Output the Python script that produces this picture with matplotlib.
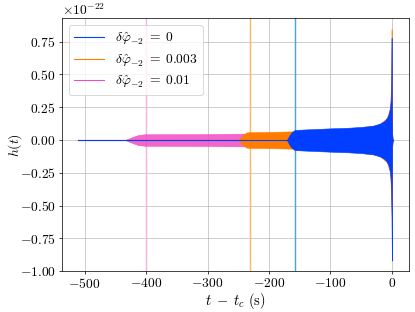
import matplotlib
matplotlib.use("Agg")
import matplotlib.pyplot as plt
from matplotlib.lines import Line2D
import numpy as np

plt.rcParams['font.family'] = 'serif'
plt.rcParams['font.serif'] = ['cmr10', 'DejaVu Serif']
plt.rcParams['mathtext.fontset'] = 'cm'
plt.rcParams['axes.formatter.use_mathtext'] = True
plt.rcParams['axes.unicode_minus'] = True

SCALE = 1e-22

# Envelopes of h(t) (units of 1e-22)
t_blue = [-511, -171, -167, -163, -158, -130, -100, -70, -50, -30, -20, -12, -8, -5, -3, -2, -1.2, -0.6, -0.3, 0.3, 1, 2]
up_blue = [0, 0, 0.035, 0.06, 0.077, 0.083, 0.089, 0.094, 0.10, 0.11, 0.125, 0.145, 0.17, 0.20, 0.25, 0.30, 0.42, 0.78, 0.5, 0.05, 0.01, 0]
lo_blue = [0, 0, -0.035, -0.06, -0.077, -0.083, -0.089, -0.094, -0.10, -0.11, -0.125, -0.145, -0.17, -0.20, -0.25, -0.30, -0.42, -0.6, -0.92, -0.05, -0.01, 0]

t_orange = [-511, -250, -246, -242, -236, -200, -160, -100, -50, -20, -8, -3, -1.2, -0.6, -0.3, 0.3, 1, 2]
up_orange = [0, 0, 0.02, 0.04, 0.059, 0.062, 0.066, 0.075, 0.09, 0.12, 0.17, 0.25, 0.45, 0.846, 0.5, 0.05, 0.01, 0]
lo_orange = [0, 0, -0.02, -0.04, -0.059, -0.062, -0.066, -0.075, -0.09, -0.12, -0.17, -0.25, -0.45, -0.6, -0.85, -0.05, -0.01, 0]

t_pink = [-511, -434, -428, -421, -413, -402, -350, -300, -250, -200, -100, -50, -20, -8, -3, -1.2, -0.6, -0.3, 0.3, 1, 2]
up_pink = [0, 0, 0.012, 0.025, 0.038, 0.044, 0.045, 0.046, 0.048, 0.052, 0.065, 0.08, 0.11, 0.16, 0.24, 0.4, 0.7, 0.45, 0.05, 0.01, 0]
lo_pink = [0, 0, -0.012, -0.025, -0.038, -0.044, -0.045, -0.046, -0.048, -0.052, -0.065, -0.08, -0.11, -0.16, -0.24, -0.4, -0.55, -0.8, -0.05, -0.01, 0]

labels = [r'$\delta\hat{\varphi}_{-2}\;=\;0$', r'$\delta\hat{\varphi}_{-2}\;=\;0.003$', r'$\delta\hat{\varphi}_{-2}\;=\;0.01$']
colors = ['#023eff', '#ff7c00', '#f14cc1']
vline_t = [-158, -231, -400]
vline_colors = ['#4aa6da', '#f3bb63', '#f5b3e2']

fig = plt.figure(figsize=(415/65, 312/65), dpi=65)
ax = fig.add_axes([0.149, 0.131, 0.837, 0.811])
ax.set_axisbelow(True)
ax.grid(True, color='#b0b0b0', linewidth=0.8, alpha=0.85)

for tv, cv in zip(vline_t, vline_colors):
    ax.axvline(tv, color=cv, linewidth=1.6, zorder=1)

def band(t, up, lo, color, alpha, z):
    t = np.asarray(t)
    ax.fill_between(t, np.asarray(lo) * SCALE, np.asarray(up) * SCALE,
                    facecolor=color, edgecolor=color, alpha=alpha, linewidth=0.6, zorder=z)
    ax.plot(t, np.zeros_like(t, dtype=float), color=color, linewidth=1.2, zorder=z + 0.1)

band(t_pink, up_pink, lo_pink, colors[2], 0.85, 2)
band(t_orange, up_orange, lo_orange, colors[1], 1.0, 3)
band(t_blue, up_blue, lo_blue, colors[0], 1.0, 4)

ax.set_xlim(-537, 28)
ax.set_ylim(-1.0e-22, 0.93e-22)
ax.set_xticks([-500, -400, -300, -200, -100, 0])
ax.set_yticks(np.array([-1.0, -0.75, -0.5, -0.25, 0, 0.25, 0.5, 0.75]) * SCALE)
ax.tick_params(labelsize=15)
ax.yaxis.get_offset_text().set_fontsize(15)
ax.set_xlabel(r'$t\;-\;t_c\ (\mathrm{s})$', fontsize=16, labelpad=0)
ax.set_ylabel(r'$h(t)$', fontsize=15)
ax.yaxis.set_label_coords(-0.11, 0.5)

handles = [Line2D([0], [0], color=c, linewidth=1.2) for c in colors]
ax.legend(handles, labels, loc='upper left', fontsize=15, framealpha=0.8,
          handlelength=2.2, labelspacing=0.35, borderaxespad=0.5)

fig.savefig('out.png', dpi=65)
